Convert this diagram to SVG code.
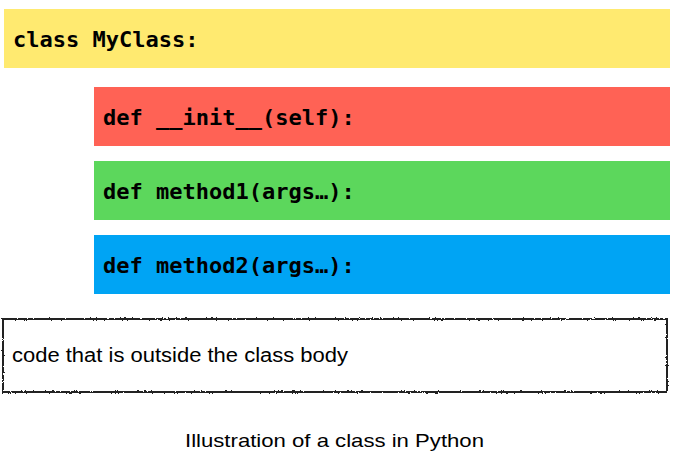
<svg xmlns="http://www.w3.org/2000/svg" width="676" height="468" viewBox="0 0 676 468">
<defs>
<filter id="rough" x="-2%" y="-10%" width="104%" height="120%">
<feTurbulence type="fractalNoise" baseFrequency="0.6" numOctaves="2" seed="3" result="n"/>
<feDisplacementMap in="SourceGraphic" in2="n" scale="2.5" xChannelSelector="R" yChannelSelector="G"/>
</filter>
</defs>
<style>
.code{font-family:"DejaVu Sans Mono","Liberation Mono",monospace;font-weight:bold;font-size:22px;fill:#000}
.plain{font-family:"Liberation Sans","DejaVu Sans",sans-serif;fill:#000}
</style>
<rect width="676" height="468" fill="#fff"/>
<g id="class-node">
<rect x="4" y="9" width="666" height="59" fill="#ffea70"/>
<text class="code" x="13" y="47">class MyClass:</text>
</g>
<g id="init-node">
<rect x="94" y="87" width="576" height="59" fill="#ff6255"/>
<text class="code" x="103" y="125">def __init__(self):</text>
</g>
<g id="method1-node">
<rect x="94" y="161" width="576" height="59" fill="#5cd75c"/>
<text class="code" x="103" y="199">def method1(args…):</text>
</g>
<g id="method2-node">
<rect x="94" y="235" width="576" height="59" fill="#00a4f4"/>
<text class="code" x="103" y="273">def method2(args…):</text>
</g>
<g id="outside-node">
<rect x="3" y="319" width="664" height="73" fill="none" stroke="#222" stroke-width="2" filter="url(#rough)"/>
<text class="plain" x="12" y="362" font-size="19.5" textLength="336" lengthAdjust="spacingAndGlyphs">code that is outside the class body</text>
</g>
<g id="connectors"></g>
<g id="caption">
<text class="plain" x="185" y="447" font-size="18.5" textLength="299" lengthAdjust="spacingAndGlyphs">Illustration of a class in Python</text>
</g>
</svg>
